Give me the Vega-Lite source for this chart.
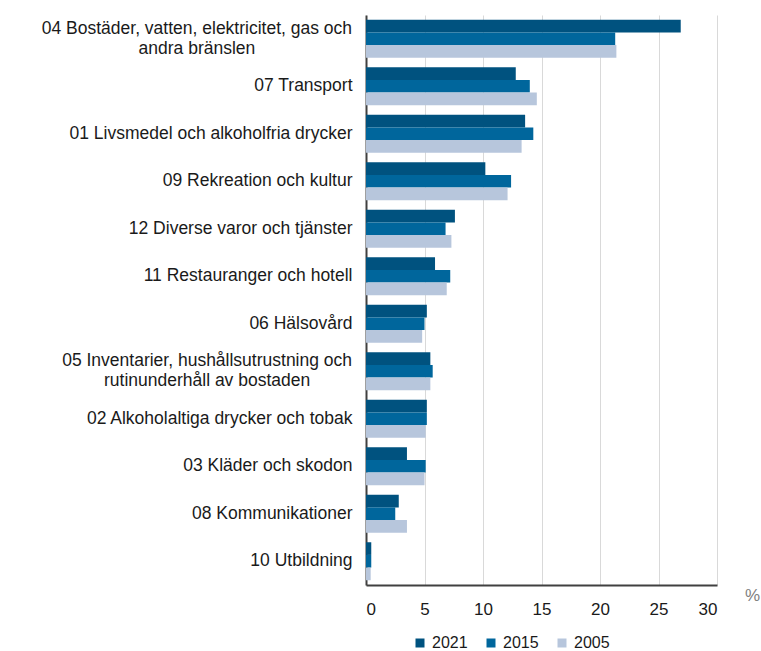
{
  "$schema": "https://vega.github.io/schema/vega-lite/v6.json",
  "width": 351,
  "height": 570,
  "padding": {"left": 41, "top": 15, "right": 5, "bottom": 0},
  "config": {"view": {"stroke": null}, "font": "Liberation Sans"},
  "data": {"values": [
    {"cat": "04 Bostäder, vatten, elektricitet, gas och|andra bränslen", "year": "2021", "value": 26.9},
    {"cat": "04 Bostäder, vatten, elektricitet, gas och|andra bränslen", "year": "2015", "value": 21.3},
    {"cat": "04 Bostäder, vatten, elektricitet, gas och|andra bränslen", "year": "2005", "value": 21.4},
    {"cat": "07 Transport", "year": "2021", "value": 12.8},
    {"cat": "07 Transport", "year": "2015", "value": 14.0},
    {"cat": "07 Transport", "year": "2005", "value": 14.6},
    {"cat": "01 Livsmedel och alkoholfria drycker", "year": "2021", "value": 13.6},
    {"cat": "01 Livsmedel och alkoholfria drycker", "year": "2015", "value": 14.3},
    {"cat": "01 Livsmedel och alkoholfria drycker", "year": "2005", "value": 13.3},
    {"cat": "09 Rekreation och kultur", "year": "2021", "value": 10.2},
    {"cat": "09 Rekreation och kultur", "year": "2015", "value": 12.4},
    {"cat": "09 Rekreation och kultur", "year": "2005", "value": 12.1},
    {"cat": "12 Diverse varor och tjänster", "year": "2021", "value": 7.6},
    {"cat": "12 Diverse varor och tjänster", "year": "2015", "value": 6.8},
    {"cat": "12 Diverse varor och tjänster", "year": "2005", "value": 7.3},
    {"cat": "11 Restauranger och hotell", "year": "2021", "value": 5.9},
    {"cat": "11 Restauranger och hotell", "year": "2015", "value": 7.2},
    {"cat": "11 Restauranger och hotell", "year": "2005", "value": 6.9},
    {"cat": "06 Hälsovård", "year": "2021", "value": 5.2},
    {"cat": "06 Hälsovård", "year": "2015", "value": 5.0},
    {"cat": "06 Hälsovård", "year": "2005", "value": 4.8},
    {"cat": "05 Inventarier, hushållsutrustning och|rutinunderhåll av bostaden", "year": "2021", "value": 5.5},
    {"cat": "05 Inventarier, hushållsutrustning och|rutinunderhåll av bostaden", "year": "2015", "value": 5.7},
    {"cat": "05 Inventarier, hushållsutrustning och|rutinunderhåll av bostaden", "year": "2005", "value": 5.5},
    {"cat": "02 Alkoholaltiga drycker och tobak", "year": "2021", "value": 5.2},
    {"cat": "02 Alkoholaltiga drycker och tobak", "year": "2015", "value": 5.2},
    {"cat": "02 Alkoholaltiga drycker och tobak", "year": "2005", "value": 5.1},
    {"cat": "03 Kläder och skodon", "year": "2021", "value": 3.5},
    {"cat": "03 Kläder och skodon", "year": "2015", "value": 5.1},
    {"cat": "03 Kläder och skodon", "year": "2005", "value": 5.0},
    {"cat": "08 Kommunikationer", "year": "2021", "value": 2.8},
    {"cat": "08 Kommunikationer", "year": "2015", "value": 2.5},
    {"cat": "08 Kommunikationer", "year": "2005", "value": 3.5},
    {"cat": "10 Utbildning", "year": "2021", "value": 0.45},
    {"cat": "10 Utbildning", "year": "2015", "value": 0.45},
    {"cat": "10 Utbildning", "year": "2005", "value": 0.4}
  ]},
  "mark": {"type": "bar"},
  "encoding": {
    "y": {
      "field": "cat", "type": "nominal", "sort": null,
      "scale": {"paddingInner": 0.2, "paddingOuter": 0.1},
      "axis": {
        "title": null, "ticks": false,
        "labelExpr": "split(datum.label, '|')",
        "labelAlign": {"condition": {"test": "indexof(datum.value, '|') >= 0", "value": "center"}, "value": "right"},
        "labelOffset": {"condition": {"test": "indexof(datum.value, '|') >= 0", "value": -10}, "value": 0},
        "labelPadding": {"condition": [
          {"test": "indexof(datum.value, 'Bost') >= 0", "value": 169.6},
          {"test": "indexof(datum.value, 'Inventarier') >= 0", "value": 159.4}
        ], "value": 14},
        "labelFontSize": 17.5, "labelColor": "#1a1a1a",
        "domainColor": "#404040", "domainWidth": 2, "labelLimit": 400, "labelLineHeight": 20
      }
    },
    "yOffset": {"field": "year", "type": "nominal", "sort": ["2021", "2015", "2005"], "scale": {"paddingInner": 0}},
    "x": {
      "field": "value", "type": "quantitative",
      "scale": {"domain": [0, 30], "nice": false},
      "axis": {
        "values": [0, 5, 10, 15, 20, 25, 30], "title": "%", "titleAngle": 0,
        "titleFontWeight": "normal", "titleFontSize": 17, "titleColor": "#808080",
        "titleX": 386, "titleY": 2, "titleBaseline": "top", "ticks": false,
        "labelFontSize": 17, "labelColor": "#1a1a1a", "labelPadding": 16,
        "gridColor": "#d9d9d9", "domainColor": "#404040", "domainWidth": 2
      }
    },
    "color": {
      "field": "year", "type": "nominal",
      "sort": ["2021", "2015", "2005"],
      "scale": {"domain": ["2021", "2015", "2005"], "range": ["#00527f", "#00669c", "#b7c6dc"]},
      "legend": {
        "title": null, "orient": "none", "direction": "horizontal",
        "legendX": 46, "legendY": 620,
        "symbolType": "square", "symbolSize": 81, "labelFontSize": 16,
        "labelColor": "#1a1a1a", "columnPadding": 15, "labelOffset": 4
      }
    }
  }
}
